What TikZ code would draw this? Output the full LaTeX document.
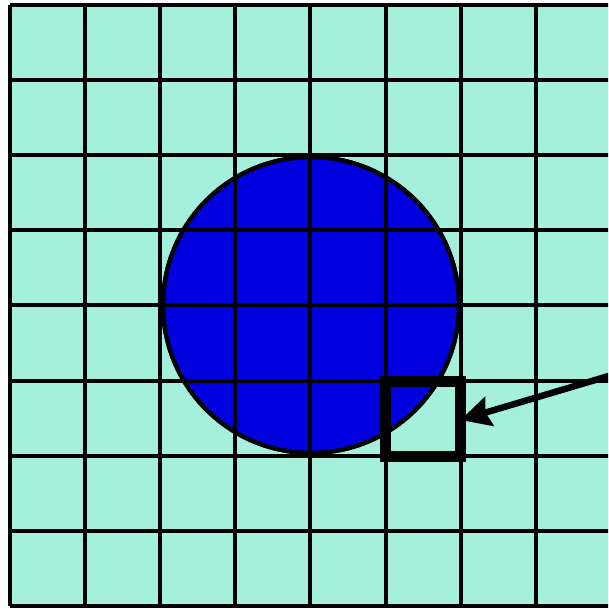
\documentclass[tikz,border=0pt]{standalone}
\usetikzlibrary{arrows.meta}
\definecolor{cellfill}{RGB}{164,240,218}
\definecolor{discblue}{RGB}{0,0,222}
\tikzset{
  gridline/.style={line width=4pt, draw=black},
  disc/.style={circle, draw=black, line width=4.2pt, fill=discblue, minimum size=296pt, inner sep=0pt},
  highlight/.style={rectangle, draw=black, line width=11pt, minimum size=75pt, inner sep=0pt, outer sep=0pt},
  pointer/.style={line width=6.5pt, -{Stealth[length=30pt,width=30pt,inset=4pt]}}
}
\begin{document}
\begin{tikzpicture}[x=1pt,y=-1pt]
\useasboundingbox (0,0) rectangle (608,609);
\clip (0,0) rectangle (608,609);
\fill[cellfill] (10,5) rectangle (611,606);
\node[disc] (disc) at (311,305) {};
\foreach \i in {0,...,8} {
  \draw[gridline] (10+75.1*\i,5) -- (10+75.1*\i,606);
  \draw[gridline] (10,5+75.1*\i) -- (611,5+75.1*\i);
}
\draw[line width=4.2pt] (disc) circle (148pt);
\node[highlight] (cell) at (423,418.5) {};
\coordinate (src) at (612,375);
\draw[pointer] (src) -- (cell.east |- 0,420);
\end{tikzpicture}
\end{document}
